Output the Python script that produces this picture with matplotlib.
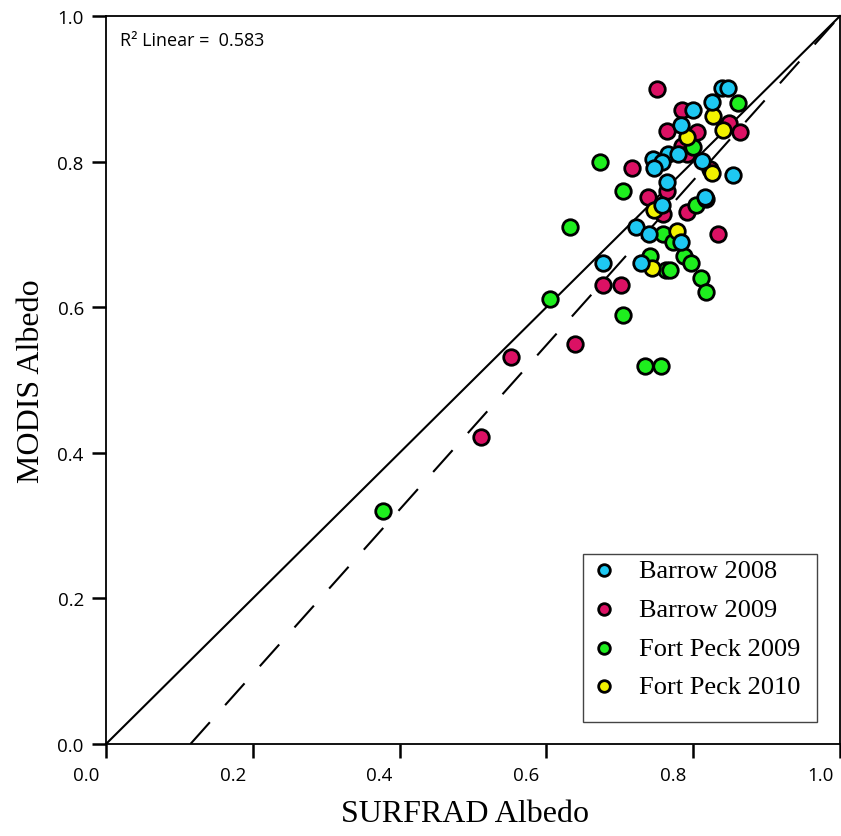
import matplotlib
matplotlib.use("Agg")
import matplotlib.pyplot as plt
import matplotlib.transforms as mtransforms
from matplotlib.patches import Rectangle

# values
barrow_2008_x = [0.677, 0.722, 0.729, 0.740, 0.783, 0.757, 0.817, 0.839, 0.847, 0.826, 0.800,
                 0.783, 0.766, 0.779, 0.745, 0.757, 0.747, 0.812, 0.854, 0.764, 0.816]
barrow_2008_y = [0.661, 0.710, 0.661, 0.701, 0.690, 0.740, 0.749, 0.901, 0.901, 0.882, 0.871,
                 0.850, 0.810, 0.810, 0.804, 0.799, 0.791, 0.801, 0.782, 0.772, 0.751]

barrow_2009_x = [0.751, 0.785, 0.849, 0.864, 0.764, 0.805, 0.785, 0.717, 0.792, 0.823,
                 0.738, 0.764, 0.759, 0.792, 0.834, 0.677, 0.702, 0.639, 0.552, 0.511]
barrow_2009_y = [0.900, 0.871, 0.853, 0.841, 0.842, 0.841, 0.821, 0.791, 0.810, 0.790,
                 0.751, 0.760, 0.728, 0.731, 0.701, 0.630, 0.630, 0.549, 0.532, 0.422]

fort_peck_2009_x = [0.377, 0.605, 0.632, 0.673, 0.704, 0.704, 0.734, 0.756, 0.741, 0.763,
                    0.768, 0.759, 0.772, 0.787, 0.797, 0.811, 0.817, 0.804, 0.861, 0.800]
fort_peck_2009_y = [0.320, 0.611, 0.710, 0.799, 0.760, 0.589, 0.519, 0.519, 0.670, 0.651,
                    0.651, 0.701, 0.690, 0.670, 0.661, 0.640, 0.621, 0.740, 0.880, 0.820]

fort_peck_2010_x = [0.827, 0.841, 0.792, 0.826, 0.747, 0.778, 0.744]
fort_peck_2010_y = [0.863, 0.843, 0.834, 0.784, 0.734, 0.705, 0.654]

# 1:1 line and linear fit line
ONE_TO_ONE = [0.0, 1.0]
FIT_SLOPE = 1.13
FIT_INTERCEPT = -0.13
R2_TEXT = "R\u00b2 Linear =  0.583"

TICKS = [0.0, 0.2, 0.4, 0.6, 0.8, 1.0]
TICK_LABELS = ["0.0", "0.2", "0.4", "0.6", "0.8", "1.0"]

W, H = 841, 837
fig = plt.figure(figsize=(W / 100, H / 100), dpi=100)
ax = fig.add_axes([106 / W, 1 - 745 / H, (840 - 106) / W, 728 / H])

ax.plot(ONE_TO_ONE, ONE_TO_ONE, color="black", lw=1.5, zorder=2, clip_on=False)
fit_x0 = -FIT_INTERCEPT / FIT_SLOPE
fit_x = [fit_x0, 1.0]
fit_y = [FIT_SLOPE * v + FIT_INTERCEPT for v in fit_x]
ax.plot(fit_x, fit_y, color="black", lw=1.5, dashes=(14, 11), zorder=2)

ms = 125
ew = 2.0
series = [
    (barrow_2009_x, barrow_2009_y, "#DB1164", "Barrow 2009"),
    (fort_peck_2009_x, fort_peck_2009_y, "#1EEE1E", "Fort Peck 2009"),
    (fort_peck_2010_x, fort_peck_2010_y, "#F2F200", "Fort Peck 2010"),
    (barrow_2008_x, barrow_2008_y, "#1EC8F2", "Barrow 2008"),
]
handles = {}
for xs, ys, col, lab in series:
    handles[lab] = ax.scatter(xs, ys, s=ms, c=col, edgecolors="black", linewidths=ew,
                              zorder=3, label=lab)

ax.set_xlim(0, 1)
ax.set_ylim(0, 1)
ax.set_xticks(TICKS)
ax.set_xticklabels(TICK_LABELS)
ax.set_yticks(TICKS)
ax.set_yticklabels(TICK_LABELS)
for sp in ax.spines.values():
    sp.set_linewidth(1.3)
ax.tick_params(direction="out", length=10, width=1.8, labelsize=13.5, pad=6)
for lbl in ax.get_xticklabels() + ax.get_yticklabels():
    lbl.set_fontfamily("Open Sans")
offset = mtransforms.ScaledTranslation(-0.20, 0, fig.dpi_scale_trans)
for lbl in ax.get_xticklabels():
    lbl.set_transform(lbl.get_transform() + offset)

ax.text(0.019, 0.967, R2_TEXT, transform=ax.transAxes, fontsize=13,
        family="Open Sans", va="center", ha="left")

order = ["Barrow 2008", "Barrow 2009", "Fort Peck 2009", "Fort Peck 2010"]
leg = ax.legend([handles[k] for k in order], order, loc="upper left",
                bbox_to_anchor=(0.653, 0.262), frameon=False, markerscale=0.75,
                prop={"family": "Liberation Serif", "size": 19}, labelspacing=0.58,
                handlelength=1.0, handletextpad=0.84, borderaxespad=0, borderpad=0.2)
ax.add_patch(Rectangle((0.65, 0.030), 0.319, 0.231, transform=ax.transAxes,
                       fill=False, edgecolor="#444444", lw=1.0, zorder=4))

fig.text(465 / W, 1 - 815 / H, "SURFRAD Albedo", ha="center", va="center",
         family="Liberation Serif", fontsize=23)
fig.text(32 / W, 1 - 381 / H, "MODIS Albedo", ha="center", va="center", rotation=90,
         family="Liberation Serif", fontsize=23)

fig.savefig("out.png", dpi=100)
